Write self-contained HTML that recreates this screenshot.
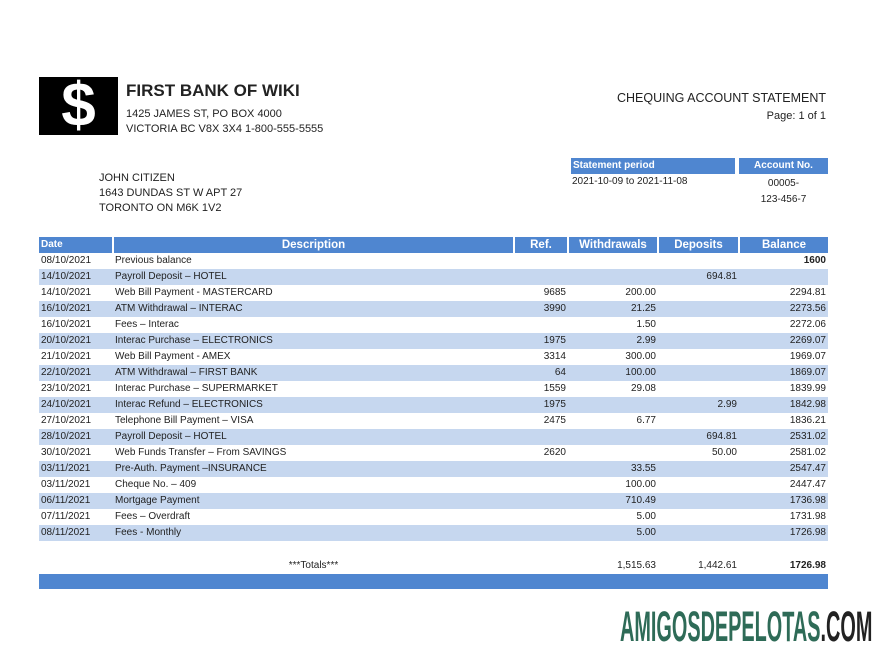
<!DOCTYPE html>
<html><head><meta charset="utf-8"><style>
body{margin:0;width:893px;height:662px;background:#fff;position:relative;overflow:hidden;font-family:"Liberation Sans",sans-serif;color:#222}
.a{position:absolute;white-space:nowrap}
table{position:absolute;left:39px;top:237px;width:789px;border-collapse:collapse;font-size:10px;table-layout:fixed}
td,th{height:16px;padding:0 2px;line-height:16px;overflow:hidden;white-space:nowrap}
th{background:#4f86d0;color:#fff;font-size:11.5px;border-right:2px solid #fff}
th:last-child{border-right:0}
tr.b td{background:#c6d7ef}
.r{text-align:right}
</style></head><body>
<div class="a" style="left:39px;top:77px;width:79px;height:58px;background:#000;color:#fff;font:bold 62px/58px 'Liberation Sans',sans-serif;text-align:center">$</div>
<div class="a" style="left:126px;top:81px;font-weight:bold;font-size:17px">FIRST BANK OF WIKI</div>
<div class="a" style="left:126px;top:107px;font-size:11px;line-height:15px">1425 JAMES ST, PO BOX 4000<br>VICTORIA BC V8X 3X4 1-800-555-5555</div>
<div class="a" style="left:99px;top:171px;font-size:11px;line-height:15px">JOHN CITIZEN<br>1643 DUNDAS ST W APT 27<br>TORONTO ON M6K 1V2</div>
<div class="a" style="right:67px;top:91px;font-size:12.5px">CHEQUING ACCOUNT STATEMENT</div>
<div class="a" style="right:67px;top:110px;font-size:11px">Page: 1 of 1</div>
<div class="a" style="left:571px;top:158px;width:162px;height:16px;background:#4f86d0;color:#fff;font-weight:bold;font-size:10px;line-height:16px;padding-left:2px">Statement period</div>
<div class="a" style="left:739px;top:158px;width:89px;height:16px;background:#4f86d0;color:#fff;font-weight:bold;font-size:10px;line-height:16px;text-align:center">Account No.</div>
<div class="a" style="left:572px;top:176px;font-size:10px">2021-10-09 to 2021-11-08</div>
<div class="a" style="left:739px;width:89px;top:176px;font-size:10px;line-height:16px;text-align:center">00005-<br>123-456-7</div>
<table>
<colgroup><col style="width:74px"><col style="width:401px"><col style="width:54px"><col style="width:90px"><col style="width:81px"><col style="width:89px"></colgroup>
<tr><th style="text-align:left;font-size:10px">Date</th><th>Description</th><th>Ref.</th><th>Withdrawals</th><th>Deposits</th><th>Balance</th></tr>
<tr><td>08/10/2021</td><td>Previous balance</td><td></td><td></td><td></td><td class="r"><b>1600</b></td></tr>
<tr class="b"><td>14/10/2021</td><td>Payroll Deposit – HOTEL</td><td></td><td></td><td class="r">694.81</td><td></td></tr>
<tr><td>14/10/2021</td><td>Web Bill Payment - MASTERCARD</td><td class="r">9685</td><td class="r">200.00</td><td></td><td class="r">2294.81</td></tr>
<tr class="b"><td>16/10/2021</td><td>ATM Withdrawal – INTERAC</td><td class="r">3990</td><td class="r">21.25</td><td></td><td class="r">2273.56</td></tr>
<tr><td>16/10/2021</td><td>Fees – Interac</td><td></td><td class="r">1.50</td><td></td><td class="r">2272.06</td></tr>
<tr class="b"><td>20/10/2021</td><td>Interac Purchase – ELECTRONICS</td><td class="r">1975</td><td class="r">2.99</td><td></td><td class="r">2269.07</td></tr>
<tr><td>21/10/2021</td><td>Web Bill Payment - AMEX</td><td class="r">3314</td><td class="r">300.00</td><td></td><td class="r">1969.07</td></tr>
<tr class="b"><td>22/10/2021</td><td>ATM Withdrawal – FIRST BANK</td><td class="r">64</td><td class="r">100.00</td><td></td><td class="r">1869.07</td></tr>
<tr><td>23/10/2021</td><td>Interac Purchase – SUPERMARKET</td><td class="r">1559</td><td class="r">29.08</td><td></td><td class="r">1839.99</td></tr>
<tr class="b"><td>24/10/2021</td><td>Interac Refund – ELECTRONICS</td><td class="r">1975</td><td></td><td class="r">2.99</td><td class="r">1842.98</td></tr>
<tr><td>27/10/2021</td><td>Telephone Bill Payment – VISA</td><td class="r">2475</td><td class="r">6.77</td><td></td><td class="r">1836.21</td></tr>
<tr class="b"><td>28/10/2021</td><td>Payroll Deposit – HOTEL</td><td></td><td></td><td class="r">694.81</td><td class="r">2531.02</td></tr>
<tr><td>30/10/2021</td><td>Web Funds Transfer – From SAVINGS</td><td class="r">2620</td><td></td><td class="r">50.00</td><td class="r">2581.02</td></tr>
<tr class="b"><td>03/11/2021</td><td>Pre-Auth. Payment –INSURANCE</td><td></td><td class="r">33.55</td><td></td><td class="r">2547.47</td></tr>
<tr><td>03/11/2021</td><td>Cheque No. – 409</td><td></td><td class="r">100.00</td><td></td><td class="r">2447.47</td></tr>
<tr class="b"><td>06/11/2021</td><td>Mortgage Payment</td><td></td><td class="r">710.49</td><td></td><td class="r">1736.98</td></tr>
<tr><td>07/11/2021</td><td>Fees – Overdraft</td><td></td><td class="r">5.00</td><td></td><td class="r">1731.98</td></tr>
<tr class="b"><td>08/11/2021</td><td>Fees - Monthly</td><td></td><td class="r">5.00</td><td></td><td class="r">1726.98</td></tr>
<tr><td colspan="6" style="height:17px"></td></tr>
<tr><td></td><td style="text-align:center">***Totals***</td><td></td><td class="r">1,515.63</td><td class="r">1,442.61</td><td class="r"><b>1726.98</b></td></tr>
</table>
<div class="a" style="left:39px;top:574px;width:789px;height:15px;background:#4f86d0"></div>
<div class="a" style="left:620px;top:603px;font:bold 43px/48px 'Liberation Sans',sans-serif;color:#2e6b57;transform:scaleX(0.462);transform-origin:left top">AMIGOSDEPELOTAS<span style="color:#222">.COM</span></div>
</body></html>
